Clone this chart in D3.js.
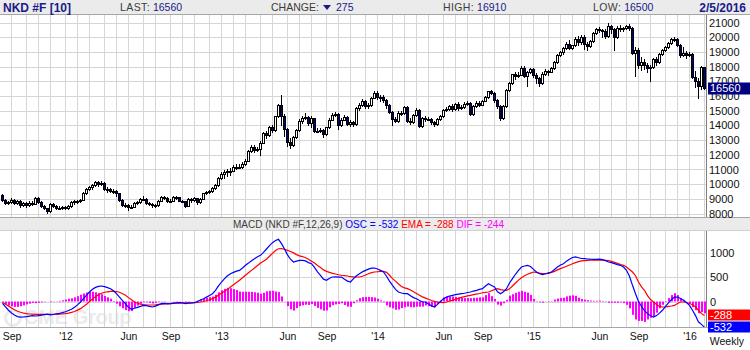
<!DOCTYPE html>
<html>
<head>
<meta charset="utf-8">
<script src="https://cdn.jsdelivr.net/npm/d3@7/dist/d3.min.js"></script>
<style>
  html, body { margin: 0; padding: 0; background: #fff; }
  svg { display: block; font-family: "Liberation Sans", Arial, Helvetica, sans-serif; }
</style>
</head>
<body>
<svg id="chart" width="750" height="350"></svg>
<script>
// ---- Weekly NKD futures bars, first week ending 2011-08-12 ----
const firstWeek = "2011-08-12";
const opens = [
  9250, 8930, 8720, 8800, 8950, 8740, 8860, 8560, 8700, 8600,
  8750, 8680, 9050, 8800, 8510, 8370, 8160, 8640, 8540, 8400,
  8400, 8455, 8390, 8500, 8770, 8840, 8830, 8950, 9380, 9650,
  9780, 9930, 10130, 10010, 10080, 9690, 9640, 9560, 9520, 9380,
  8950, 8610, 8590, 8440, 8460, 8720, 8800, 9010, 9020, 8720,
  8670, 8570, 8560, 8890, 9160, 9070, 8840, 8870, 9160, 9110,
  8870, 8860, 8530, 9000, 8930, 9050, 8760, 9020, 9370, 9450,
  9530, 9740, 9940, 10400, 10690, 10800, 10910, 10930, 11190, 11150,
  11170, 11390, 11610, 12280, 12560, 12340, 12400, 12830, 13490, 13320,
  13880, 13690, 14610, 15400, 14610, 13770, 12880, 12690, 13230, 13680,
  14310, 14510, 14590, 14130, 14470, 13620, 13650, 13660, 13390, 13860,
  14400, 14740, 14760, 14020, 14400, 14560, 14090, 14200, 14090, 15170,
  15380, 15660, 15300, 15400, 15870, 16180, 15910, 15910, 15730, 15390,
  14910, 14460, 14310, 14870, 14840, 15270, 14330, 14220, 14700, 15060,
  13960, 14520, 14430, 14460, 14200, 14100, 14460, 14630, 15080, 15100,
  15350, 15100, 15440, 15160, 15220, 15460, 15520, 14780, 15320, 15540,
  15420, 15670, 15950, 16320, 16230, 15710, 15300, 14530, 15290, 16410,
  16880, 17490, 17360, 17460, 17920, 17370, 17620, 17820, 17450, 17200,
  16860, 17510, 17670, 17650, 17910, 18330, 18800, 18970, 19250, 19560,
  19290, 19440, 19910, 19650, 20020, 19530, 19380, 19750, 20270, 20560,
  20480, 20400, 20100, 20750, 20550, 20000, 20650, 20550, 20600, 20750,
  20600, 18950, 19150, 18100, 18300, 18100, 17900, 18000, 18500, 18300,
  18850, 19100, 19300, 19600, 19900, 19880, 19500, 18780, 18950, 18780,
  18830, 17300, 17050, 16700, 17980
];
const highs = [
  9330, 8990, 8890, 9050, 9010, 8950, 8910, 8810, 8760, 8840,
  8830, 9160, 9100, 8840, 8570, 8410, 8710, 8700, 8580, 8490,
  8525, 8505, 8580, 8830, 8920, 8900, 9020, 9440, 9730, 9870,
  10030, 10250, 10190, 10250, 10140, 9780, 9710, 9670, 9580, 9420,
  9000, 8710, 8650, 8580, 8780, 8870, 9070, 9170, 9060, 8800,
  8730, 8660, 8950, 9230, 9200, 9120, 8980, 9220, 9210, 9150,
  8950, 8890, 9090, 9060, 9140, 9090, 9080, 9420, 9530, 9620,
  9790, 10010, 10460, 10800, 10950, 11060, 11130, 11320, 11380, 11370,
  11480, 11690, 12340, 12650, 12680, 12510, 12930, 13570, 13640, 13940,
  14030, 14670, 15480, 16050, 14760, 13850, 13130, 13310, 13760, 14430,
  14610, 14810, 14650, 14650, 14510, 13830, 13810, 13740, 13920, 14480,
  14820, 14880, 14810, 14470, 14720, 14620, 14390, 14280, 15260, 15520,
  15770, 15720, 15520, 15930, 16330, 16350, 16050, 16040, 15790, 15430,
  15010, 14580, 14950, 14990, 15330, 15310, 14480, 14760, 15150, 15100,
  14560, 14650, 14580, 14530, 14320, 14520, 14730, 15120, 15280, 15410,
  15460, 15500, 15570, 15360, 15560, 15640, 15560, 15380, 15630, 15640,
  15730, 16020, 16370, 16440, 16300, 15790, 15360, 15410, 16500, 16980,
  17530, 17600, 17600, 18070, 18030, 17720, 17910, 17930, 17540, 17320,
  17610, 17850, 17800, 17960, 18410, 18860, 19070, 19310, 19680, 19780,
  19500, 20000, 20060, 20130, 20130, 19640, 19810, 20330, 20630, 20680,
  20590, 20550, 20950, 20850, 20650, 20730, 20810, 20700, 20850, 20900,
  20660, 19330, 19270, 18620, 18550, 18250, 18120, 18560, 18620, 18910,
  19210, 19390, 19680, 19960, 20030, 19920, 19570, 19350, 19070, 18980,
  18900, 17700, 17200, 18050, 18000
];
const lows = [
  8830, 8660, 8650, 8720, 8650, 8680, 8440, 8490, 8470, 8530,
  8600, 8630, 8710, 8450, 8290, 8050, 8120, 8420, 8300, 8330,
  8340, 8280, 8330, 8460, 8680, 8720, 8770, 8910, 9320, 9580,
  9690, 9850, 9890, 9930, 9630, 9490, 9460, 9380, 9230, 8880,
  8510, 8470, 8240, 8380, 8420, 8630, 8740, 8930, 8640, 8590,
  8460, 8430, 8500, 8840, 8970, 8770, 8780, 8830, 8990, 8830,
  8770, 8470, 8490, 8820, 8880, 8680, 8720, 8990, 9310, 9410,
  9490, 9680, 9910, 10350, 10410, 10550, 10610, 10870, 11060, 11070,
  11110, 11330, 11570, 12220, 12190, 12240, 12000, 12790, 13170, 13260,
  13580, 13630, 14550, 14060, 13270, 12580, 12440, 12590, 13170, 13620,
  14190, 14450, 14010, 13900, 13520, 13560, 13520, 13180, 13330, 13820,
  14350, 14650, 13740, 13950, 14350, 14000, 13990, 13940, 14050, 15080,
  15320, 15150, 15200, 15340, 15830, 15800, 15680, 15580, 15190, 14810,
  14000, 14220, 14260, 14690, 14800, 14210, 14070, 14160, 14660, 13870,
  13900, 14310, 14340, 14120, 13970, 14060, 14400, 14590, 14950, 15060,
  14990, 15050, 15050, 15100, 15180, 15400, 14720, 14730, 15280, 15310,
  15360, 15630, 15890, 16140, 15590, 15200, 14400, 14450, 15230, 16350,
  16820, 17160, 17260, 17400, 17260, 16650, 17560, 17300, 16900, 16690,
  16800, 17440, 17450, 17600, 17860, 18270, 18740, 18870, 19190, 19190,
  19170, 19380, 19500, 19570, 19230, 19150, 19320, 19700, 20210, 20360,
  20000, 19950, 20040, 20300, 19150, 19940, 20450, 20420, 20540, 20470,
  18890, 17350, 17900, 17800, 17850, 17600, 17050, 17920, 18120, 18240,
  18770, 19040, 19240, 19540, 19730, 19420, 18680, 18720, 18580, 18700,
  17240, 16600, 15850, 16500, 16450
];
const closes = [
  8930, 8720, 8800, 8950, 8740, 8860, 8560, 8700, 8600, 8750,
  8680, 9050, 8800, 8510, 8370, 8160, 8640, 8540, 8400, 8400,
  8455, 8390, 8500, 8770, 8840, 8830, 8950, 9380, 9650, 9780,
  9930, 10130, 10010, 10080, 9690, 9640, 9560, 9520, 9380, 8950,
  8610, 8590, 8440, 8460, 8720, 8800, 9010, 9020, 8720, 8670,
  8570, 8560, 8890, 9160, 9070, 8840, 8870, 9160, 9110, 8870,
  8860, 8530, 9000, 8930, 9050, 8760, 9020, 9370, 9450, 9530,
  9740, 9940, 10400, 10690, 10800, 10910, 10930, 11190, 11150, 11170,
  11390, 11610, 12280, 12560, 12340, 12400, 12830, 13490, 13320, 13880,
  13690, 14610, 15400, 14610, 13770, 12880, 12690, 13230, 13680, 14310,
  14510, 14590, 14130, 14470, 13620, 13650, 13660, 13390, 13860, 14400,
  14740, 14760, 14020, 14400, 14560, 14090, 14200, 14090, 15170, 15380,
  15660, 15300, 15400, 15870, 16180, 15910, 15910, 15730, 15390, 14910,
  14460, 14310, 14870, 14840, 15270, 14330, 14220, 14700, 15060, 13960,
  14520, 14430, 14460, 14200, 14100, 14460, 14630, 15080, 15100, 15350,
  15100, 15440, 15160, 15220, 15460, 15520, 14780, 15320, 15540, 15420,
  15670, 15950, 16320, 16230, 15710, 15300, 14530, 15290, 16410, 16880,
  17490, 17360, 17460, 17920, 17370, 17620, 17820, 17450, 17200, 16860,
  17510, 17670, 17650, 17910, 18330, 18800, 18970, 19250, 19560, 19290,
  19440, 19910, 19650, 20020, 19530, 19380, 19750, 20270, 20560, 20480,
  20400, 20100, 20750, 20550, 20000, 20650, 20550, 20600, 20750, 20600,
  18950, 19150, 18100, 18300, 18100, 17900, 18000, 18500, 18300, 18850,
  19100, 19300, 19600, 19900, 19880, 19500, 18780, 18950, 18780, 18830,
  17300, 17050, 16700, 17980, 16560
];

// ---- MACD(12,26,9): oscillator and its signal EMA ----
const oscValues = [
  -40, -110, -180, -235, -280, -310, -320, -318, -310, -300,
  -290, -298, -292, -280, -271, -262, -275, -268, -255, -245,
  -230, -210, -185, -160, -120, -70, -10, 60, 130, 195,
  250, 290, 312, 319, 305, 285, 264, 220, 161, 90,
  20, -50, -120, -161, -140, -120, -100, -79, -85, -100,
  -113, -95, -70, -45, -40, -48, -45, -35, -28, -24,
  -30, -45, -35, -28, -24, 0, 30, 58, 90, 125,
  161, 230, 320, 401, 470, 530, 573, 600, 625, 641,
  690, 744, 790, 840, 880, 920, 950, 1010, 1080, 1150,
  1210, 1255, 1279, 1190, 1080, 960, 870, 813, 830, 845,
  847, 835, 800, 778, 700, 610, 538, 460, 436, 480,
  504, 505, 500, 504, 460, 420, 401, 470, 530, 573,
  610, 640, 665, 685, 689, 670, 640, 607, 520, 420,
  330, 250, 195, 175, 161, 161, 120, 80, 58, 20,
  -10, -10, -50, -90, -113, -60, 0, 58, 90, 110,
  127, 140, 150, 161, 170, 185, 195, 215, 230, 250,
  264, 320, 367, 330, 298, 200, 161, 200, 264, 380,
  470, 560, 640, 710, 730, 744, 720, 660, 607, 570,
  552, 570, 590, 607, 660, 710, 750, 778, 830, 870,
  905, 916, 900, 885, 881, 875, 870, 867, 867, 870,
  860, 840, 813, 800, 780, 760, 744, 710, 641, 520,
  333, 160, 0, -100, -190, -250, -295, -319, -290, -240,
  -180, -100, -30, 40, 90, 92, 60, 24, -20, -79,
  -180, -290, -422, -470, -532
];
const emaValues = [
  -20, -55, -95, -135, -170, -200, -222, -238, -250, -257,
  -261, -264, -265, -265, -264, -263, -263, -262, -260, -258,
  -255, -250, -240, -225, -205, -178, -147, -105, -55, 0,
  50, 100, 140, 170, 190, 200, 207, 209, 205, 190,
  160, 127, 80, 35, -10, -35, -55, -65, -70, -72,
  -72, -68, -60, -52, -47, -45, -44, -40, -35, -30,
  -28, -28, -28, -27, -25, -18, -10, 0, 15, 35,
  58, 90, 130, 170, 210, 250, 300, 345, 390, 436,
  490, 540, 590, 641, 690, 740, 790, 830, 870, 930,
  990, 1050, 1085, 1087, 1075, 1053, 1030, 1000, 965, 940,
  925, 900, 870, 830, 790, 740, 700, 650, 620, 600,
  580, 565, 550, 540, 532, 525, 510, 505, 504, 504,
  520, 545, 570, 595, 607, 612, 618, 621, 600, 540,
  470, 420, 360, 310, 280, 264, 235, 200, 165, 127,
  95, 70, 45, 20, 4, -10, -20, -24, -10, 10,
  24, 45, 65, 85, 100, 115, 127, 140, 152, 165,
  180, 188, 195, 220, 245, 264, 245, 235, 230, 260,
  320, 380, 440, 490, 530, 560, 585, 607, 600, 585,
  575, 573, 580, 600, 620, 650, 676, 700, 725, 750,
  778, 800, 820, 835, 842, 847, 850, 852, 852, 850,
  850, 847, 840, 825, 805, 785, 760, 744, 710, 660,
  607, 530, 400, 300, 230, 120, 40, -10, -60, -100,
  -113, -110, -100, -92, -80, -40, -10, -10, -20, -40,
  -65, -110, -180, -250, -288
];

// ---- Quote header ----
const symbolName = "NKD #F [10]";
const lastPrice = 16560;
const changeValue = 275;
const highPrice = 16910;
const lowPrice = 16500;
const quoteDate = "2/5/2016";

// ---- Axis ticks ----
const priceTicks = [8000, 9000, 10000, 11000, 12000, 13000, 14000, 15000, 16000, 17000, 18000, 19000, 20000, 21000];
const macdTicks = [0, 500, 1000];
const labelledMonths = [0, 5, 8];   // January (year), June, September

// ---------------------------------------------------------------
const svg = d3.select("#chart");
const W = 750, H = 350;
const n = closes.length;
const idx = d3.range(n);
const parse = d3.timeParse("%Y-%m-%d");
const week0 = parse(firstWeek);
const weeks = idx.map(i => d3.timeDay.offset(week0, 7 * i));
const difValues = idx.map(i => oscValues[i] - emaValues[i]);

const plotRight = 706;                 // x of the right axis line
const price = { top: 15, bottom: 217 };
const macd = { top: 231, bottom: 327 };

const x = d3.scaleTime()
  .domain([weeks[0], weeks[n - 1]])
  .range([2, 2 + 3 * (n - 1)]);
const cx = i => Math.round(x(weeks[i]));

const y = d3.scaleLinear().domain([8000, 21000]).range([213.6, 22.5]);
const ym = d3.scaleLinear().domain([-500, 1000]).range([325.8, 252.9]);

const gridColor = "#d6d6d6";
const frameColor = "#a6a6a6";
const navy = "#00007f";

svg.append("rect").attr("width", W).attr("height", H).attr("fill", "#fff");

// month boundaries (first weekly bar of each month)
const monthStarts = idx.filter(i => i > 0 && weeks[i].getMonth() !== weeks[i - 1].getMonth());

// clip paths
const defs = svg.append("defs");
defs.append("clipPath").attr("id", "clipPrice").append("rect")
  .attr("x", 0).attr("y", price.top).attr("width", plotRight).attr("height", price.bottom - price.top);
defs.append("clipPath").attr("id", "clipMacd").append("rect")
  .attr("x", 0).attr("y", macd.top).attr("width", plotRight).attr("height", macd.bottom - macd.top);

// ---------- price panel grid ----------
const gPrice = svg.append("g").attr("clip-path", "url(#clipPrice)");
gPrice.selectAll("line.vg").data(monthStarts).join("line")
  .attr("x1", i => cx(i) + 0.5).attr("x2", i => cx(i) + 0.5)
  .attr("y1", price.top).attr("y2", price.bottom)
  .attr("stroke", gridColor);
gPrice.selectAll("line.hg").data(priceTicks).join("line")
  .attr("x1", 0).attr("x2", plotRight)
  .attr("y1", d => Math.round(y(d)) + 0.5).attr("y2", d => Math.round(y(d)) + 0.5)
  .attr("stroke", gridColor);

// candles
gPrice.selectAll("line.wick").data(idx).join("line")
  .attr("x1", i => cx(i) + 0.5).attr("x2", i => cx(i) + 0.5)
  .attr("y1", i => Math.round(y(highs[i]))).attr("y2", i => Math.round(y(lows[i])) + 1)
  .attr("stroke", "#000").attr("stroke-width", 1);
gPrice.selectAll("rect.body").data(idx).join("rect")
  .attr("x", i => cx(i) - 0.5)
  .attr("width", 2)
  .attr("y", i => Math.round(y(Math.max(opens[i], closes[i]))) + 0.5)
  .attr("height", i => Math.max(1, Math.round(y(Math.min(opens[i], closes[i]))) - Math.round(y(Math.max(opens[i], closes[i])))))
  .attr("fill", i => closes[i] < opens[i] ? navy : "#fff")
  .attr("stroke", "#000").attr("stroke-width", 1);

// ---------- MACD panel ----------
const gMacd = svg.append("g").attr("clip-path", "url(#clipMacd)");
gMacd.selectAll("line.vg").data(monthStarts).join("line")
  .attr("x1", i => cx(i) + 0.5).attr("x2", i => cx(i) + 0.5)
  .attr("y1", macd.top).attr("y2", macd.bottom)
  .attr("stroke", gridColor);
gMacd.selectAll("line.hg").data(macdTicks).join("line")
  .attr("x1", 0).attr("x2", plotRight)
  .attr("y1", d => Math.round(ym(d)) + 0.5).attr("y2", d => Math.round(ym(d)) + 0.5)
  .attr("stroke", gridColor);

// CME Group mark
const wm = gMacd.append("g").attr("opacity", 0.45);
wm.append("circle").attr("cx", 13).attr("cy", 318).attr("r", 7.5).attr("fill", "none")
  .attr("stroke", "#d4d4d4").attr("stroke-width", 3);
wm.append("text").attr("x", 24).attr("y", 324).attr("fill", "#d4d4d4")
  .attr("font-size", 20).attr("font-weight", "bold").attr("letter-spacing", -0.3).text("CME Group");

// histogram (DIF)
const y0 = ym(0);
gMacd.selectAll("rect.hist").data(idx).join("rect")
  .attr("x", i => cx(i))
  .attr("width", 2)
  .attr("y", i => Math.min(ym(difValues[i]), y0))
  .attr("height", i => Math.abs(ym(difValues[i]) - y0))
  .attr("fill", "#ff00ff");

gMacd.append("path").datum(idx)
  .attr("d", d3.line().x(i => cx(i) + 0.5).y(i => ym(emaValues[i])))
  .attr("fill", "none").attr("stroke", "#ff0000").attr("stroke-width", 1.2);
gMacd.append("path").datum(idx)
  .attr("d", d3.line().x(i => cx(i) + 0.5).y(i => ym(oscValues[i])))
  .attr("fill", "none").attr("stroke", "#0000ff").attr("stroke-width", 1.2);

// ---------- header bars ----------
svg.append("rect").attr("x", 0).attr("y", 0).attr("width", W).attr("height", 14).attr("fill", "#ebebeb");
svg.append("line").attr("x1", 0).attr("x2", W).attr("y1", 14.5).attr("y2", 14.5).attr("stroke", frameColor);

svg.append("rect").attr("x", 0).attr("y", 218).attr("width", W).attr("height", 13).attr("fill", "#ebebeb");
svg.append("line").attr("x1", 0).attr("x2", W).attr("y1", 217.5).attr("y2", 217.5).attr("stroke", frameColor);
svg.append("line").attr("x1", 0).attr("x2", W).attr("y1", 230.5).attr("y2", 230.5).attr("stroke", "#d0d0d0");

// bottom axis frame
svg.append("line").attr("x1", 0).attr("x2", W).attr("y1", macd.bottom + 0.5).attr("y2", macd.bottom + 0.5).attr("stroke", frameColor);

// right axis line
svg.append("line").attr("x1", plotRight + 0.5).attr("x2", plotRight + 0.5)
  .attr("y1", price.top).attr("y2", price.bottom).attr("stroke", "#7f7f7f");
svg.append("line").attr("x1", plotRight + 0.5).attr("x2", plotRight + 0.5)
  .attr("y1", macd.top).attr("y2", macd.bottom).attr("stroke", "#7f7f7f");

// quote header text
const labelGray = "#3c3c3c";
const valueNavy = "#1a1a8c";
const hdr = svg.append("g").attr("font-size", 10.5);
svg.append("text").attr("x", 3).attr("y", 11.5).attr("font-size", 12).attr("font-weight", "bold")
  .attr("fill", valueNavy).text(symbolName);
function pair(xPos, label, value) {
  const t = hdr.append("text").attr("x", xPos).attr("y", 11);
  t.append("tspan").attr("fill", labelGray).attr("letter-spacing", 0.4).text(label);
  t.append("tspan").attr("fill", valueNavy).text(" " + value);
}
pair(120, "LAST:", lastPrice);
hdr.append("text").attr("x", 271).attr("y", 11).attr("fill", labelGray).text("CHANGE:");
hdr.append("path").attr("d", "M323,5 L331,5 L327,10 Z").attr("fill", valueNavy);
hdr.append("text").attr("x", 336).attr("y", 11).attr("fill", valueNavy).text(changeValue);
pair(443, "HIGH:", highPrice);
pair(593, "LOW:", lowPrice);
svg.append("text").attr("x", 746).attr("y", 11.5).attr("text-anchor", "end")
  .attr("font-size", 12).attr("font-weight", "bold").attr("fill", valueNavy).text(quoteDate);

// MACD header text
const last = n - 1;
const mh = svg.append("text").attr("x", 233).attr("y", 228).attr("font-size", 10);
mh.append("tspan").attr("fill", labelGray).text("MACD (NKD #F,12,26,9) ");
mh.append("tspan").attr("fill", "#0000ff").text("OSC = " + oscValues[last] + " ");
mh.append("tspan").attr("fill", "#ff0000").text("EMA = " + emaValues[last] + " ");
mh.append("tspan").attr("fill", "#ff00ff").text("DIF = " + difValues[last]);

// ---------- axes ----------
const axisFont = "'Liberation Sans', Arial, sans-serif";
const pAxis = svg.append("g").attr("transform", `translate(${plotRight},0)`)
  .call(d3.axisRight(y).tickValues(priceTicks).tickSize(0).tickPadding(3).tickFormat(d3.format("d")));
pAxis.select(".domain").remove();
pAxis.selectAll("text").attr("font-size", 11).attr("font-family", axisFont).attr("fill", "#111");

// last price marker (covers the neighbouring tick labels)
svg.append("rect").attr("x", 708).attr("y", Math.round(y(lastPrice)) - 5.5).attr("width", 42).attr("height", 12).attr("fill", "#000080");
svg.append("text").attr("x", 710).attr("y", y(lastPrice) + 4.5).attr("font-size", 11).attr("fill", "#fff").text(closes[last]);

const mAxis = svg.append("g").attr("transform", `translate(${plotRight},0)`)
  .call(d3.axisRight(ym).tickValues(macdTicks).tickSize(0).tickPadding(4).tickFormat(d3.format("d")));
mAxis.select(".domain").remove();
mAxis.selectAll("text").attr("font-size", 11).attr("font-family", axisFont).attr("fill", "#111");

// EMA and OSC value markers
svg.append("rect").attr("x", 708).attr("y", Math.round(ym(emaValues[last])) - 5.5).attr("width", 42).attr("height", 11).attr("fill", "#ff0000");
svg.append("text").attr("x", 710).attr("y", ym(emaValues[last]) + 4).attr("font-size", 11).attr("fill", "#fff").text(emaValues[last]);
svg.append("rect").attr("x", 708).attr("y", Math.round(ym(oscValues[last])) - 5.5).attr("width", 42).attr("height", 11).attr("fill", "#0000ff");
svg.append("text").attr("x", 710).attr("y", ym(oscValues[last]) + 4).attr("font-size", 11).attr("fill", "#fff").text(oscValues[last]);

// time axis
const labelWeeks = monthStarts.filter(i => labelledMonths.includes(weeks[i].getMonth())).map(i => weeks[i]);
const fmtMonth = d3.timeFormat("%b"), fmtYear = d3.timeFormat("%y");
const tAxis = svg.append("g").attr("transform", `translate(0.5,${macd.bottom + 4})`)
  .call(d3.axisBottom(x).tickValues(labelWeeks).tickSize(0).tickPadding(2)
    .tickFormat(d => d.getMonth() === 0 ? "'" + fmtYear(d) : fmtMonth(d)));
tAxis.select(".domain").remove();
tAxis.selectAll("text").attr("font-size", 10.5).attr("font-family", axisFont).attr("fill", "#111");
svg.append("text").attr("x", 744).attr("y", 345).attr("text-anchor", "end")
  .attr("font-size", 10.5).attr("fill", "#111").text("Weekly");
</script>
</body>
</html>
